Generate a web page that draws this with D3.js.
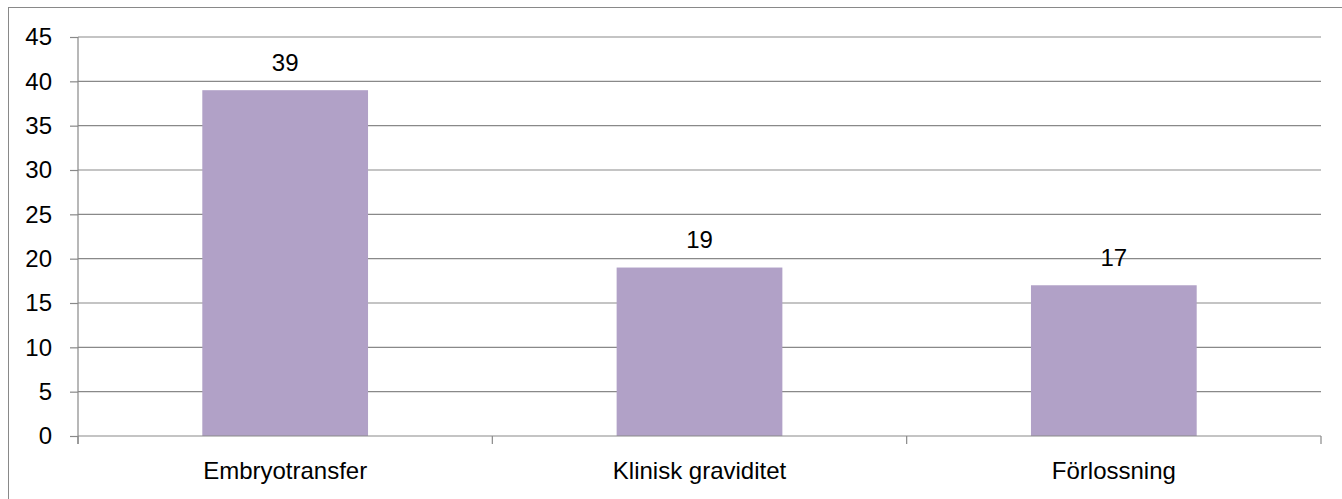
<!DOCTYPE html>
<html>
<head>
<meta charset="utf-8">
<script src="https://cdn.jsdelivr.net/npm/d3@7"></script>
<style>
  html, body { margin: 0; padding: 0; background: #fff; }
  svg { display: block; }
  text { font-family: "Liberation Sans", Arial, sans-serif; fill: #000; }
</style>
</head>
<body>
<svg id="chart" width="1342" height="499"></svg>
<script>
const categories = ["Embryotransfer", "Klinisk graviditet", "Förlossning"];
const values = [39, 19, 17];
const yTicks = [0, 5, 10, 15, 20, 25, 30, 35, 40, 45];

const svg = d3.select("#chart");
const W = 1342, H = 499;
const plot = { left: 78, right: 1321, top: 37, bottom: 436 };
const gridColor = "#898989";
const barColor = "#B1A1C7";
const fontSize = 24;

// outer chart border
svg.append("rect")
  .attr("x", 8.5).attr("y", 7.5)
  .attr("width", W).attr("height", H)
  .attr("fill", "none").attr("stroke", gridColor).attr("stroke-width", 1);

const x = d3.scaleBand().domain(categories).range([plot.left, plot.right]).paddingInner(0).paddingOuter(0);
const y = d3.scaleLinear().domain([0, 45]).range([plot.bottom, plot.top]);

// gridlines
svg.append("g").selectAll("line").data(yTicks.filter(d => d > 0)).join("line")
  .attr("x1", plot.left).attr("x2", plot.right)
  .attr("y1", d => y(d)).attr("y2", d => y(d))
  .attr("stroke", gridColor).attr("stroke-width", 1.2);

// y axis
const yAxis = d3.axisLeft(y).tickValues(yTicks).tickSize(8).tickPadding(18).tickSizeOuter(0);
const gy = svg.append("g").attr("transform", `translate(${plot.left},0)`).call(yAxis);
gy.select(".domain").remove();
gy.selectAll(".tick line").attr("stroke", gridColor).attr("stroke-width", 1.2);
gy.selectAll(".tick text").attr("font-size", fontSize).attr("font-family", "Liberation Sans, Arial, sans-serif").attr("fill", "#000");
svg.append("line")
  .attr("x1", plot.left).attr("x2", plot.left)
  .attr("y1", plot.top).attr("y2", plot.bottom + 8)
  .attr("stroke", gridColor).attr("stroke-width", 1.2);

// bars
const barW = x.bandwidth() * 0.4;
svg.append("g").selectAll("rect").data(categories).join("rect")
  .attr("x", d => x(d) + (x.bandwidth() - barW) / 2)
  .attr("width", barW)
  .attr("y", (d, i) => y(values[i]))
  .attr("height", (d, i) => y(0) - y(values[i]))
  .attr("fill", barColor);

// x axis
svg.append("line")
  .attr("x1", plot.left).attr("x2", plot.right)
  .attr("y1", plot.bottom).attr("y2", plot.bottom)
  .attr("stroke", gridColor).attr("stroke-width", 1.2);
const bounds = [plot.left].concat(categories.map(c => x(c) + x.bandwidth()));
svg.append("g").selectAll("line").data(bounds).join("line")
  .attr("x1", d => d).attr("x2", d => d)
  .attr("y1", plot.bottom).attr("y2", plot.bottom + 8)
  .attr("stroke", gridColor).attr("stroke-width", 1.2);

svg.append("g").selectAll("text").data(categories).join("text")
  .attr("x", d => x(d) + x.bandwidth() / 2)
  .attr("y", 479)
  .attr("text-anchor", "middle")
  .attr("font-size", fontSize)
  .text(d => d);

// value labels
svg.append("g").selectAll("text").data(categories).join("text")
  .attr("x", d => x(d) + x.bandwidth() / 2)
  .attr("y", (d, i) => y(values[i]) - 19.5)
  .attr("text-anchor", "middle")
  .attr("font-size", fontSize)
  .text((d, i) => values[i]);
</script>
</body>
</html>
